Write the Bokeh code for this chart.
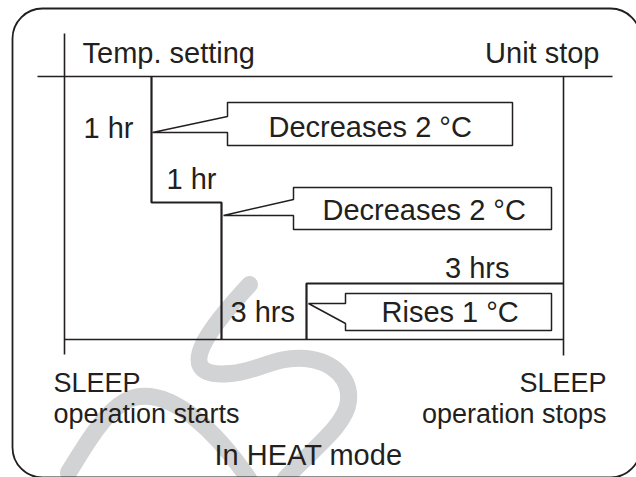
from bokeh.plotting import figure
from bokeh.models import Range1d, BoxAnnotation
from bokeh.core.properties import value
from bokeh.embed import file_html
from bokeh.resources import INLINE

# ---- content (diagram labels) ----
header_labels = ["Temp. setting", "Unit stop"]
duration_labels = ["1 hr", "1 hr", "3 hrs", "3 hrs"]
change_labels = ["Decreases 2 °C", "Decreases 2 °C", "Rises 1 °C"]
start_labels = ["SLEEP", "operation starts"]
stop_labels = ["SLEEP", "operation stops"]
mode_label = "In HEAT mode"

INK = "#231f20"
FONT = value("Liberation Sans")
TEXT_SHIFT = -9  # compensates the renderer's baseline offset

p = figure(width=636, height=477, output_backend="svg", toolbar_location=None,
           x_range=Range1d(0, 636), y_range=Range1d(477, 0),
           min_border=0, outline_line_color=None)
p.axis.visible = False
p.grid.visible = False
p.background_fill_color = "white"
p.border_fill_color = "white"

# ---- watermark (light grey swoosh) ----
wm = dict(
    x0=[249, 230, 305, 348, 68, 140],
    y0=[284, 373, 358, 400, 472, 396],
    x1=[230, 305, 348, 285, 140, 248],
    y1=[373, 358, 400, 478, 396, 478],
    cx0=[225, 255, 335, 346, 85, 175],
    cy0=[310, 372, 361, 425, 445, 393],
    cx1=[160, 275, 350, 310, 110, 215],
    cy1=[380, 355, 380, 450, 398, 430],
)
p.bezier(**wm, line_color="#d2d3d5", line_width=17, line_cap="round")

# ---- rounded frame ----
p.add_layout(BoxAnnotation(left=12, right=640, top=8, bottom=477, border_radius=30,
                           fill_alpha=0, line_alpha=1, line_color=INK, line_width=1.8))

# ---- axes of the diagram ----
p.multi_line(xs=[[64, 64], [37, 612], [563, 563], [64, 563]],
             ys=[[33, 354], [76, 76], [76, 355], [339, 339]],
             line_color=INK, line_width=1.6)

# ---- temperature steps ----
p.line([151, 151, 221, 221], [76, 202, 202, 339], line_color=INK, line_width=2.2)
p.line([306, 306, 563], [339, 283, 283], line_color=INK, line_width=2.2)

# ---- callouts ----
callouts_x = [[152, 227, 227, 512, 512, 227, 227, 152],
              [223, 293, 293, 551, 551, 293, 293, 223],
              [308, 345, 345, 551, 551, 345, 345, 308]]
callouts_y = [[132, 116, 102, 102, 145, 145, 132, 132],
              [215, 199, 187, 187, 229, 229, 215, 215],
              [303, 303, 293, 293, 330, 330, 323, 303]]
p.patches(callouts_x, callouts_y, fill_color="white", line_color=INK, line_width=1.5)

def txt(x, y, s, size="29px", align="left"):
    p.text(x=[x], y=[y + TEXT_SHIFT], text=[s], text_font=FONT, text_font_size=size,
           text_color=INK, text_align=align, text_baseline="alphabetic")

txt(82, 61, header_labels[0])
txt(599, 61, header_labels[1], align="right")
txt(83, 136, duration_labels[0])
txt(166, 187, duration_labels[1])
txt(509, 276, duration_labels[3], align="right")
txt(230, 320, duration_labels[2])
txt(268, 135, change_labels[0])
txt(322, 218, change_labels[1])
txt(381, 320, change_labels[2])
txt(53, 391, start_labels[0], size="27px")
txt(53, 422, start_labels[1], size="27px")
txt(606, 391, stop_labels[0], size="27px", align="right")
txt(606, 422, stop_labels[1], size="27px", align="right")
txt(214, 463, mode_label)

open("out.html", "w").write(file_html(p, INLINE))
